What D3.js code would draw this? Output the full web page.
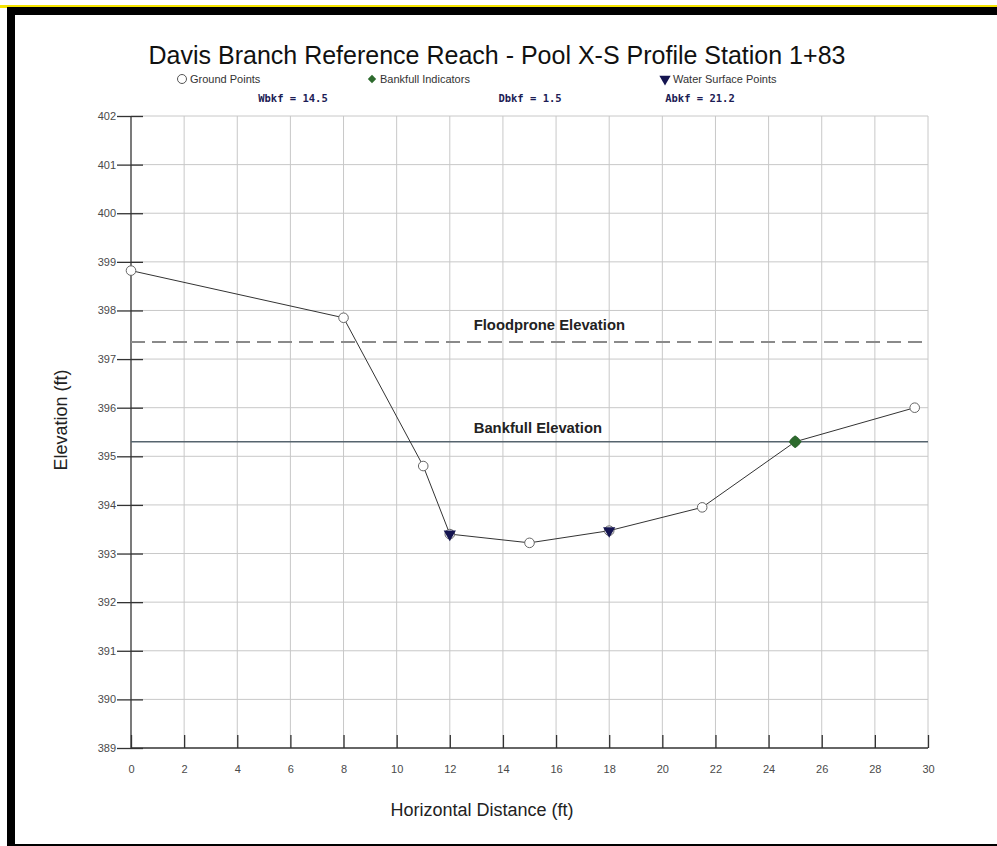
<!DOCTYPE html>
<html>
<head>
<meta charset="utf-8">
<script src="https://cdn.jsdelivr.net/npm/d3@7"></script>
<style>
  body { margin: 0; background: #fff; }
  svg { display: block; font-family: "Liberation Sans", Arial, sans-serif; }
</style>
</head>
<body>
<div id="chart"></div>
<script>
// cross-section survey (station, elevation)
const stations = [0, 8, 11, 12, 15, 18, 21.5, 25, 29.5];
const elevations = [398.82, 397.85, 394.8, 393.4, 393.22, 393.47, 393.95, 395.3, 396.0];

const bankfullStations = [25];
const bankfullElevs = [395.3];

const waterStations = [12, 18];
const waterElevs = [393.4, 393.47];

const bankfullElevation = 395.3;
const floodproneElevation = 397.35;

const xTicks = d3.range(0, 31, 2);
const yTicks = d3.range(389, 403, 1);

const statLabels = ["Wbkf = 14.5", "Dbkf = 1.5", "Abkf = 21.2"];
const legendLabels = ["Ground Points", "Bankfull Indicators", "Water Surface Points"];

const W = 997, H = 846;
const margin = { left: 131, right: 69, top: 116, bottom: 98 };

const svg = d3.select("#chart").append("svg")
  .attr("width", W)
  .attr("height", H);

// frame: yellow rule, then a black block with the white page cut into it
svg.append("rect").attr("x", 0).attr("y", 5).attr("width", W).attr("height", 3).attr("fill", "#f5e400");
svg.append("rect").attr("x", 7).attr("y", 7).attr("width", W - 7).attr("height", H - 7).attr("fill", "#000");
svg.append("rect").attr("x", 15).attr("y", 15).attr("width", W - 15).attr("height", 829).attr("fill", "#fff");

const x = d3.scaleLinear().domain([0, 30]).range([margin.left, W - margin.right]);
const y = d3.scaleLinear().domain([389, 402]).range([H - margin.bottom, margin.top]);

// grid
const grid = svg.append("g").attr("stroke", "#c8c8c8").attr("stroke-width", 1);
grid.selectAll(".vg").data(xTicks.filter(d => d > 0)).enter().append("line")
  .attr("x1", d => x(d)).attr("x2", d => x(d))
  .attr("y1", y(402)).attr("y2", y(389));
grid.selectAll(".hg").data(yTicks.filter(d => d > 389)).enter().append("line")
  .attr("x1", x(0)).attr("x2", x(30))
  .attr("y1", d => y(d)).attr("y2", d => y(d));

// axes
const xAxis = svg.append("g")
  .attr("transform", `translate(0,${y(389)})`)
  .call(d3.axisBottom(x).tickValues(xTicks).tickSize(-13).tickPadding(17));
const yAxis = svg.append("g")
  .attr("transform", `translate(${x(0)},0)`)
  .call(d3.axisLeft(y).tickValues(yTicks).tickFormat(d3.format("d")).tickSize(14).tickPadding(2));

[xAxis, yAxis].forEach(a => {
  a.select(".domain").attr("stroke", "#333").attr("stroke-width", 1.3);
  a.selectAll(".tick line").attr("stroke", "#333").attr("stroke-width", 1.3);
  a.selectAll("text").attr("fill", "#4a4a4a").attr("font-size", 11)
    .attr("font-family", "'Liberation Sans', Arial, sans-serif");
});
yAxis.selectAll(".tick line").attr("x2", 12).attr("x1", -14);
yAxis.selectAll(".tick text").attr("x", -15);
yAxis.select(".domain").attr("d", `M0,${y(402)}V${y(389)}`);
xAxis.select(".domain").attr("d", `M${x(0)},0H${x(30)}`);

// reference lines
svg.append("line")
  .attr("x1", x(0)).attr("x2", x(30))
  .attr("y1", y(floodproneElevation)).attr("y2", y(floodproneElevation))
  .attr("stroke", "#8a8a8a").attr("stroke-width", 2).attr("stroke-dasharray", "14,7");
svg.append("line")
  .attr("x1", x(0)).attr("x2", x(30))
  .attr("y1", y(bankfullElevation)).attr("y2", y(bankfullElevation))
  .attr("stroke", "#56646e").attr("stroke-width", 1.5);

svg.append("text").attr("x", x(12.9)).attr("y", y(floodproneElevation) - 12)
  .attr("font-size", 14.8).attr("font-weight", "bold").attr("fill", "#222")
  .text("Floodprone Elevation");
svg.append("text").attr("x", x(12.9)).attr("y", y(bankfullElevation) - 9)
  .attr("font-size", 14.8).attr("font-weight", "bold").attr("fill", "#222")
  .text("Bankfull Elevation");

// ground profile
const pts = stations.map((s, i) => [s, elevations[i]]);
svg.append("path")
  .datum(pts)
  .attr("fill", "none").attr("stroke", "#333").attr("stroke-width", 1)
  .attr("d", d3.line().x(d => x(d[0])).y(d => y(d[1])));

svg.selectAll(".gp").data(pts).enter().append("circle")
  .attr("cx", d => x(d[0])).attr("cy", d => y(d[1])).attr("r", 4.8)
  .attr("fill", "#fff").attr("stroke", "#666").attr("stroke-width", 1);

const tri = d3.symbol().type(d3.symbolTriangle).size(65);
svg.selectAll(".ws").data(waterStations).enter().append("path")
  .attr("d", tri)
  .attr("transform", (d, i) => `translate(${x(d)},${y(waterElevs[i])}) rotate(180)`)
  .attr("fill", "#141450");

const dia = d3.symbol().type(d3.symbolDiamond2).size(70);
svg.selectAll(".bk").data(bankfullStations).enter().append("path")
  .attr("d", dia)
  .attr("transform", (d, i) => `translate(${x(d)},${y(bankfullElevs[i])})`)
  .attr("fill", "#2d6a2d").attr("stroke", "#2d6a2d").attr("stroke-width", 2)
  .attr("stroke-linejoin", "round");

// title
svg.append("text").attr("x", 497).attr("y", 64).attr("text-anchor", "middle")
  .attr("font-size", 25).attr("fill", "#111")
  .text("Davis Branch Reference Reach - Pool X-S Profile Station 1+83");

// legend
const legendX = [182, 372, 665];
const lg = svg.append("g").attr("transform", "translate(0,79)");
lg.append("circle").attr("cx", legendX[0]).attr("cy", 0).attr("r", 4.5)
  .attr("fill", "#fff").attr("stroke", "#555");
lg.append("path").attr("d", d3.symbol().type(d3.symbolDiamond2).size(45))
  .attr("transform", `translate(${legendX[1]},0)`).attr("fill", "#2d6a2d");
lg.append("path").attr("d", d3.symbol().type(d3.symbolTriangle).size(55))
  .attr("transform", `translate(${legendX[2]},0) rotate(180)`).attr("fill", "#141450");
lg.selectAll(".lt").data(legendLabels).enter().append("text")
  .attr("x", (d, i) => legendX[i] + 8).attr("y", 4)
  .attr("font-size", 11).attr("fill", "#333").text(d => d);

// bankfull stats
const statX = [293, 530, 700];
svg.selectAll(".st").data(statLabels).enter().append("text")
  .attr("x", (d, i) => statX[i]).attr("y", 102).attr("text-anchor", "middle")
  .attr("font-family", "'DejaVu Sans Mono', monospace").attr("font-weight", "bold")
  .attr("font-size", 10.5).attr("fill", "#1c1c55")
  .text(d => d);

// axis titles
svg.append("text").attr("x", 482).attr("y", 816).attr("text-anchor", "middle")
  .attr("font-size", 18).attr("fill", "#222").text("Horizontal Distance (ft)");
svg.append("text").attr("transform", "translate(67,420) rotate(-90)")
  .attr("text-anchor", "middle").attr("font-size", 18).attr("fill", "#222")
  .text("Elevation (ft)");
</script>
</body>
</html>
